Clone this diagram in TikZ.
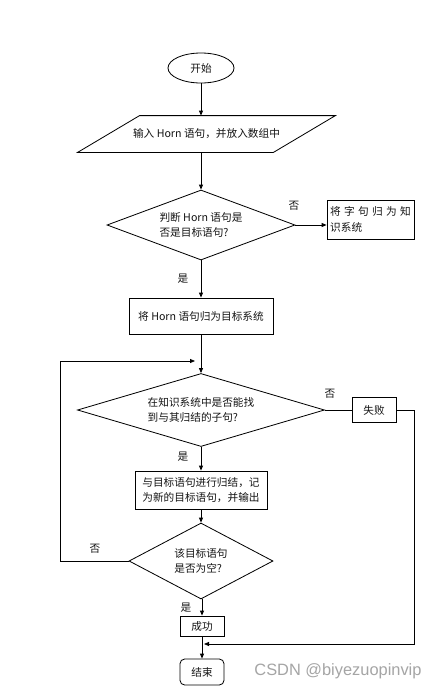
\documentclass[tikz,border=0pt]{standalone}
\usepackage{fontspec}
\setmainfont{Noto Sans CJK SC}
\newfontfamily\markfont{Liberation Sans}
\definecolor{flow_line}{RGB}{0, 0, 0}
\definecolor{flow_text}{RGB}{20, 20, 20}
\definecolor{flow_mark}{RGB}{165, 165, 165}
\usepackage{tikz}
\usetikzlibrary{arrows.meta, positioning, shapes.geometric}

\begin{document}
\begin{tikzpicture}[x=0.03cm, y=-0.03cm,
    base/.style={draw=flow_line, line width=0.7pt, text=flow_text, font=\fontsize{9.1}{13.4}\selectfont, inner sep=1pt},
    procbox/.style={base, rectangle, align=left},
    decision/.style={base, diamond, align=left},
    arr/.style={line width=0.7pt, -{Triangle[length=1.5mm, width=1.2mm]}},
    conn/.style={line width=0.7pt},
    yesno/.style={text=flow_text, font=\fontsize{9.1}{11}\selectfont}]
    \fill[white] (0,0) rectangle (443,690);
    \useasboundingbox (0,0) rectangle (443,690);

    \node[base, ellipse, minimum width=1.98cm, minimum height=0.9cm] (start) at (201,68) {开始};
    \node[base, draw=none, minimum width=5.85cm, minimum height=1.08cm] (input) at (206.5,134) {输入 Horn 语句，并放入数组中};
    \draw[conn] ([xshift=0.93cm]input.north west) -- ([xshift=0.93cm]input.north east)
        -- ([xshift=-0.93cm]input.south east) -- ([xshift=-0.93cm]input.south west) -- cycle;
    \node[decision, aspect=2.69, minimum width=5.64cm, minimum height=2.1cm] (judge) at (201,225) {判断 Horn 语句是\\否是目标语句?};
    \node[procbox, minimum width=2.61cm, minimum height=1.17cm] (tokb) at (370.5,219.5)
        {将\hspace{1mm}字\hspace{1mm}句\hspace{1mm}归\hspace{1mm}为\hspace{1mm}知\\识系统};
    \node[procbox, minimum width=4.32cm, minimum height=1.08cm] (togoal) at (201,316) {将 Horn 语句归为目标系统};
    \node[decision, aspect=3.38, minimum width=7.41cm, minimum height=2.19cm] (search) at (201,410) {在知识系统中是否能找\\到与其归结的子句?};
    \node[procbox, minimum width=1.32cm, minimum height=0.75cm] (fail) at (374,410) {失败};
    \node[procbox, minimum width=3.96cm, minimum height=1.14cm] (resolve) at (201,490) {与目标语句进行归结，记\\为新的目标语句，并输出};
    \node[decision, aspect=1.9, minimum width=4.32cm, minimum height=2.28cm] (empty) at (201,561) {该目标语句\\是否为空?};
    \node[procbox, minimum width=1.32cm, minimum height=0.6cm] (success) at (202,626) {成功};
    \node[procbox, rounded corners=4pt, minimum width=1.32cm, minimum height=0.78cm] (stop) at (202,672) {结束};

    \node[yesno] (judgeno)   at (294,206) {否};
    \node[yesno] (judgeyes)  at (183,279) {是};
    \node[yesno] (searchno)  at (330,394) {否};
    \node[yesno] (searchyes) at (183,457) {是};
    \node[yesno] (emptyno)   at (95,549)  {否};
    \node[yesno] (emptyyes)  at (186,608) {是};

    \coordinate (loopin)   at (195,361);
    \coordinate (failjoin) at (204,644);

    \draw[arr]  (start.south) -- (start.south |- input.north);
    \draw[arr]  (start.south |- input.south) -- (judge.north);
    \draw[arr]  (judge.east) -- (judge.east -| tokb.west);
    \draw[arr]  (judge.south) -- (togoal.north);
    \draw[arr]  (togoal.south) -- (search.north);
    \draw[conn] (search.east) -- (search.east -| fail.west);
    \draw[arr]  (search.south) -- (resolve.north);
    \draw[arr]  (resolve.south) -- (empty.north);
    \draw[arr]  (success.north |- empty.south) -- (success.north);
    \draw[arr]  (success.south) -- (stop.north);
    \draw[arr]  (empty.west) -- ++(-68,0) |- (loopin);
    \draw[arr]  (fail.east) -- ++(18,0) |- (failjoin);

    \node[font=\markfont\fontsize{14}{16}\selectfont, text=flow_mark] (mark) at (338,671) {CSDN @biyezuopinvip};
\end{tikzpicture}
\end{document}
